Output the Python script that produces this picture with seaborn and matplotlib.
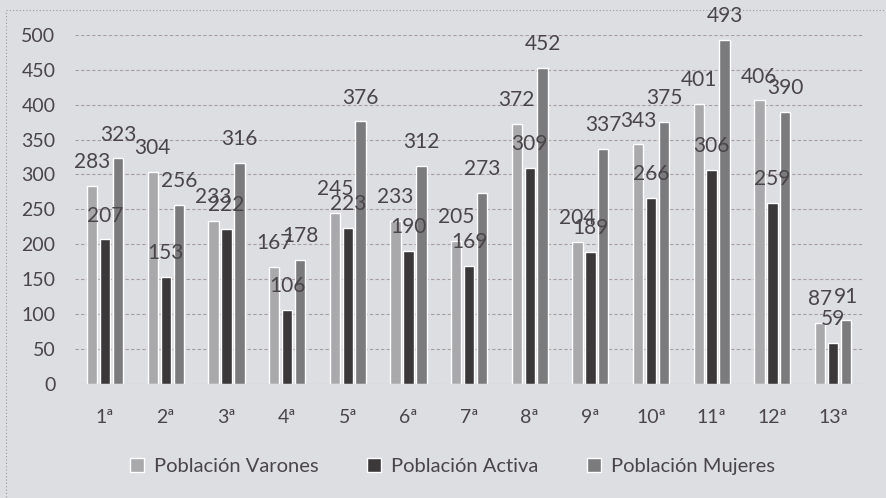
import pandas as pd
import matplotlib.pyplot as plt
import seaborn as sns
from matplotlib.patches import Rectangle

sns.set_style("white")
plt.rcParams["font.family"] = ["Lato", "DejaVu Sans"]

# datos
categorias = ["1ª", "2ª", "3ª", "4ª", "5ª", "6ª", "7ª", "8ª", "9ª", "10ª", "11ª", "12ª", "13ª"]
varones = [283, 304, 233, 167, 245, 233, 205, 372, 204, 343, 401, 406, 87]
activa = [207, 153, 222, 106, 223, 190, 169, 309, 189, 266, 306, 259, 59]
mujeres = [323, 256, 316, 178, 376, 312, 273, 452, 337, 375, 493, 390, 91]
series = ["Población Varones", "Población Activa", "Población Mujeres"]
colores = ["#a9a9ab", "#3b3739", "#7b7a7c"]

fondo = "#dcdee2"
texto = "#4a4548"

df = pd.DataFrame({
    "categoria": categorias * 3,
    "serie": [series[0]] * 13 + [series[1]] * 13 + [series[2]] * 13,
    "valor": varones + activa + mujeres,
})

fig = plt.figure(figsize=(8.87, 4.98), dpi=100, facecolor=fondo)
ax = fig.add_axes([0.0843, 0.229, 0.889, 0.701])
ax.set_facecolor(fondo)

sns.barplot(data=df, x="categoria", y="valor", hue="serie", palette=colores,
            width=0.64, gap=0.2, errorbar=None, ax=ax, legend=True)

# etiquetas de datos
for cont in ax.containers:
    ax.bar_label(cont, padding=10, fontsize=15, color=texto)

ax.set_ylim(0, 500)
ax.set_xlim(-0.5, 12.5)
ax.set_yticks(range(0, 501, 50))
ax.yaxis.grid(True, linestyle=(0, (3, 2)), color="#a89ea0", linewidth=0.8)
ax.set_axisbelow(True)
for s in ax.spines.values():
    s.set_visible(False)
ax.tick_params(axis="both", length=0, labelsize=14, labelcolor=texto)
ax.tick_params(axis="x", pad=18)
ax.tick_params(axis="y", pad=14)
ax.set_xlabel("")
ax.set_ylabel("")

handles, labels = ax.get_legend_handles_labels()
ax.get_legend().remove()
fig.legend(handles, labels, loc="center", bbox_to_anchor=(0.51, 0.064), ncol=3,
           frameon=False, fontsize=14.5, labelcolor=texto, handlelength=0.7,
           handleheight=0.7, handletextpad=0.5, columnspacing=2.4)

# borde punteado del gráfico
fig.patches.append(Rectangle((0.007, -0.02), 1.0, 1.0, transform=fig.transFigure,
                             fill=False, edgecolor="#9a9a9c", linestyle=(0, (1, 2)),
                             linewidth=0.8))

fig.savefig("out.png", dpi=100, facecolor=fondo)
